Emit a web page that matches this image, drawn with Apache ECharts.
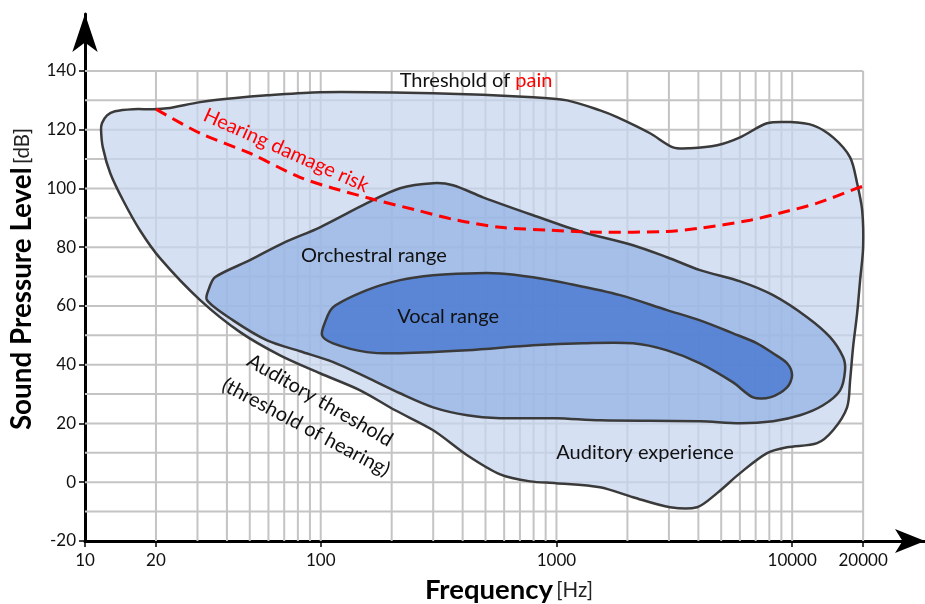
<!DOCTYPE html>
<html><head><meta charset="utf-8">
<script src="https://cdn.jsdelivr.net/npm/echarts@6/dist/echarts.min.js"></script>
<style>html,body{margin:0;padding:0;background:#fff}#c{width:925px;height:604px}</style>
</head><body><div id="c"></div>
<script>
// ---- data (frequency in Hz, level in dB) ----
const xTickLabels = [10, 20, 100, 1000, 10000, 20000];
const yTickLabels = [-20, 0, 20, 40, 60, 80, 100, 120, 140];
const gridFreqs = [20,30,40,50,60,70,80,90,100,200,300,400,500,600,700,800,900,1000,2000,3000,4000,5000,6000,7000,8000,9000,10000,20000];
const gridLevels = [-10,0,10,20,30,40,50,60,70,80,90,100,110,120,130,140];

const auditoryExperience = [
  [13.4,126.3],[16.0,127.0],[19.4,127.0],[22.3,127.3],[30.8,129.4],[42.5,130.7],[59.2,131.7],[99.3,132.8],
  [300,132.4],[796,131.1],[1109,130.0],[1531,126.6],[1808,124.3],[2495,118.8],[3124,114.0],[3689,113.7],
  [4803,114.7],[6011,117.4],[7826,122.2],[9795,122.6],[12270,121.5],[14910,117.4],[17610,110.6],[18860,101.8],
  [19810,92.6],[20000,80.0],[19420,68.8],[18860,57.5],[18130,46.0],[17610,34.7],[17100,25.5],[14910,17.7],
  [12760,13.3],[9513,11.9],[7826,9.9],[6011,3.1],[4803,-3.7],[3950,-8.5],[3034,-8.5],[2113,-5.1],[1531,-1.7],
  [996,-0.3],[773,0.3],[577,2.7],[418,9.2],[300,17.7],[207,24.5],[147,31.3],[99.3,37.1],[67.2,43.2],[45.5,51.1],
  [30.8,62.0],[20.8,76.3],[17.1,85.8],[14.5,96.0],[12.8,105.2],[11.9,114.0],[11.7,119.8],
  [11.8,122.2],[12.4,124.9]
];
const orchestralRange = [
  [33.6,66.0],[35.6,69.8],[50.1,75.6],[69.2,81.4],[99.3,86.8],[157,95.0],[217,100.1],[300,101.8],[364,101.1],
  [488,97.0],[796,90.9],[1297,85.1],[2113,80.7],[2946,76.6],[4066,72.2],[6011,68.4],[8299,63.7],[11570,56.2],
  [14480,49.4],[16440,42.6],[16760,38.1],[15970,31.3],[13520,26.2],[10800,22.8],[8299,20.8],[6011,20.1],
  [4066,20.8],[1531,21.1],[996,21.8],[577,21.8],[418,22.8],[300,25.5],[217,30.3],[157,35.7],[113,40.9],
  [81.7,44.6],[59.2,48.3],[42.5,55.1],[32.9,62.0]
];
const vocalRange = [
  [101.3,50.0],[104.3,54.5],[112.8,59.6],[157,65.4],[217,68.8],[300,70.5],[418,71.1],[577,71.1],[796,69.8],
  [1109,67.7],[1862,63.7],[2946,58.6],[4066,55.1],[5614,50.7],[7096,47.3],[8299,43.9],[9513,40.5],[9990,36.4],
  [9513,32.3],[8059,28.9],[6823,28.9],[5614,34.0],[4066,40.5],[2946,44.9],[2113,47.3],[1297,47.3],[796,46.6],
  [418,44.9],[217,43.9],[157,44.3],[112.8,47.3]
];
const hearingDamageRisk = [
  [20,127.0],[30.8,118.8],[50,112.0],[81.7,103.8],[112.8,100.1],[173,96.0],[256,92.6],[379,89.2],[577,86.8],
  [939,85.8],[1531,85.1],[2946,85.4],[4066,86.5],[6628,89.2],[9145,91.9],[12760,95.0],[18860,100.1],[20000,100.8]
];
const annotationTexts = [
  '{k|Threshold of }{r|pain}', '{r|Hearing damage risk}', '{k|Orchestral range}', '{k|Vocal range}',
  '{k|Auditory experience}', '{k|Auditory threshold}', '{k|(threshold of hearing)}'
];
const annotationAnchors = [[456,136.9],[71.3,113.0],[168,77.3],[347,56.5],[2376,10.2],[99.3,27.9],[86.6,18.7]];
const annotationAngles = [0,-24,0,0,0,-30,-28];

// ---- presentation ----
const FONT = 'Lato, "Open Sans", sans-serif';
const LOG = v => Math.log10(v);
const toXY = arr => arr.map(p => [LOG(p[0]), p[1]]);
const xMaxHz = 36600, yMaxDb = 159.4;

function areaSeries(name, pts, fill, z) {
  const xy = toXY(pts);
  return {
    type: 'custom', name, z, silent: true, coordinateSystem: 'cartesian2d',
    data: xy,
    renderItem: function (params, api) {
      if (params.dataIndex !== 0) return null;
      const points = xy.map(p => api.coord(p));
      return { type: 'polygon', shape: { points, smooth: 0.3 },
        style: { fill, stroke: '#3a3a3a', lineWidth: 2.5, lineJoin: 'round' } };
    }
  };
}

const chart = echarts.init(document.getElementById('c'), null, { renderer: 'canvas' });
chart.setOption({
  animation: false,
  grid: { left: 85, right: 0, top: 14, bottom: 63, containLabel: false },
  xAxis: {
    type: 'value', min: 1, max: LOG(xMaxHz),
    splitLine: { show: false },
    axisLine: { onZero: false, lineStyle: { color: '#000', width: 3 }, symbol: ['none', 'arrow'], symbolSize: [18, 30] },
    axisTick: { show: true, length: 6, inside: false, lineStyle: { color: '#000', width: 1.5 }, customValues: xTickLabels.map(LOG) },
    axisLabel: { customValues: xTickLabels.map(LOG), margin: 11, fontSize: 17, color: '#111', fontFamily: FONT,
      formatter: v => String(Math.round(Math.pow(10, v))) }
  },
  yAxis: {
    type: 'value', min: -20, max: yMaxDb, interval: 20,
    splitLine: { show: false },
    axisLine: { onZero: false, lineStyle: { color: '#000', width: 3 }, symbol: ['none', 'arrow'], symbolSize: [19, 38] },
    axisTick: { show: true, length: 6, inside: false, lineStyle: { color: '#000', width: 1.5 }, customValues: yTickLabels },
    axisLabel: { customValues: yTickLabels, margin: 9, fontSize: 17, color: '#111', fontFamily: FONT }
  },
  graphic: [
    { type: 'text', x: 22, y: 279, rotation: Math.PI / 2, z: 10,
      style: { text: '{b|Sound Pressure Level} {n|[dB]}', align: 'center', verticalAlign: 'middle',
        rich: { b: { font: 'bold 27.8px ' + FONT, fill: '#000' }, n: { font: '20.5px ' + FONT, fill: '#222' } } } },
    { type: 'text', x: 509, y: 590, z: 10,
      style: { text: '{b|Frequency} {n|[Hz]}', align: 'center', verticalAlign: 'middle',
        rich: { b: { font: 'bold 27.5px ' + FONT, fill: '#000' }, n: { font: '20.5px ' + FONT, fill: '#222' } } } }
  ],
  series: [
    {
      type: 'custom', name: 'vgrid', z: 1, silent: true, coordinateSystem: 'cartesian2d',
      data: gridFreqs.map(f => [LOG(f), 0]),
      renderItem: function (params, api) {
        const a = api.coord([api.value(0), -20]), b = api.coord([api.value(0), 140]);
        return { type: 'line', shape: { x1: a[0], y1: a[1], x2: b[0], y2: b[1] }, style: { stroke: '#c4c4c4', lineWidth: 2 } };
      }
    },
    {
      type: 'custom', name: 'hgrid', z: 1, silent: true, coordinateSystem: 'cartesian2d',
      data: gridLevels.map(v => [1, v]),
      renderItem: function (params, api) {
        const a = api.coord([1, api.value(1)]), b = api.coord([LOG(20000), api.value(1)]);
        return { type: 'line', shape: { x1: a[0], y1: a[1], x2: b[0], y2: b[1] }, style: { stroke: '#c4c4c4', lineWidth: 2 } };
      }
    },
    areaSeries('Auditory experience', auditoryExperience, 'rgba(200,214,239,0.75)', 2),
    areaSeries('Orchestral range', orchestralRange, 'rgba(145,178,227,0.72)', 3),
    areaSeries('Vocal range', vocalRange, 'rgba(78,125,211,0.86)', 4),
    {
      type: 'line', name: 'Hearing damage risk', z: 5, silent: true,
      data: toXY(hearingDamageRisk), smooth: 0.3, symbol: 'none',
      lineStyle: { color: '#ff0000', width: 3, type: [12, 7] }
    },
    {
      type: 'custom', name: 'labels', z: 6, silent: true, coordinateSystem: 'cartesian2d',
      data: toXY(annotationAnchors),
      renderItem: function (params, api) {
        const i = params.dataIndex;
        const p = api.coord([api.value(0), api.value(1)]);
        return { type: 'text', x: p[0], y: p[1], rotation: annotationAngles[i] * Math.PI / 180,
          style: { text: annotationTexts[i], align: 'center', verticalAlign: 'middle',
            rich: { k: { font: '20px ' + FONT, fill: '#111' }, r: { font: '20px ' + FONT, fill: '#ff0000' } } } };
      }
    }
  ]
});
</script></body></html>
